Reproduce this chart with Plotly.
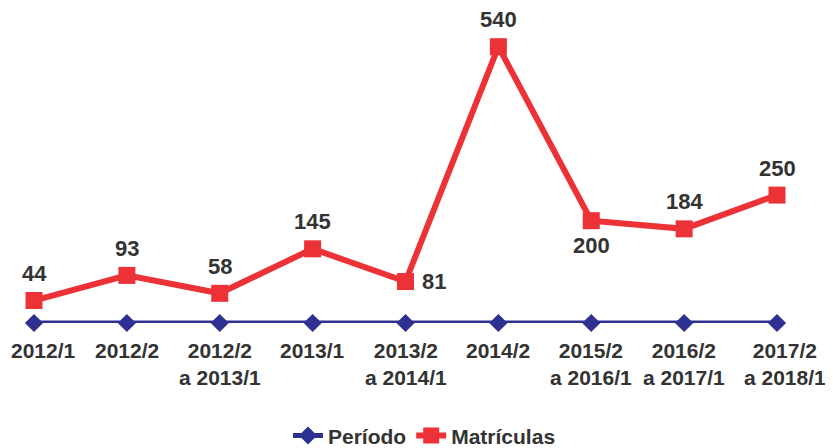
import plotly.graph_objects as go

# categories and values
periodos = ["2012/1", "2012/2", "2012/2<br>a 2013/1", "2013/1", "2013/2<br>a 2014/1",
            "2014/2", "2015/2<br>a 2016/1", "2016/2<br>a 2017/1", "2017/2<br>a 2018/1"]
periodo_vals = [0, 0, 0, 0, 0, 0, 0, 0, 0]
matriculas = [44, 93, 58, 145, 81, 540, 200, 184, 250]

x = list(range(len(periodos)))

azul = "#2E3192"
vermelho = "#ED3237"
texto = "#333333"
fonte = "Liberation Sans, Arial"

fig = go.Figure()
fig.add_trace(go.Scatter(
    x=x, y=periodo_vals, name="Período", mode="lines+markers",
    line=dict(color=azul, width=5),
    marker=dict(symbol="diamond", size=14, color=azul),
    cliponaxis=False,
))
fig.add_trace(go.Scatter(
    x=x, y=matriculas, name="Matrículas", mode="lines+markers",
    line=dict(color=vermelho, width=6),
    marker=dict(symbol="square", size=17, color=vermelho),
    cliponaxis=False,
))

# value labels (offsets in pixels relative to each point)
offsets = [(0, 27), (0, 27), (0, 27), (0, 27), (28, 0), (0, 27), (0, -25), (0, 27), (0, 27)]
for xi, v, (dx, dy) in zip(x, matriculas, offsets):
    fig.add_annotation(x=xi, y=v, text=str(v), showarrow=False,
                       xshift=dx, yshift=dy,
                       font=dict(size=22, color=texto, family=fonte, weight="bold"))

# category labels as annotations so the end ones can sit inside the page
label_shift = [9, 0, 0, 0, 0, 0, 0, 0, 8]
for xi, lab, dx in zip(x, periodos, label_shift):
    fig.add_annotation(x=xi, y=0, yref="y", text=lab, showarrow=False,
                       xshift=dx, yshift=-14, yanchor="top",
                       font=dict(size=21, color=texto, family=fonte, weight="bold"))

# the page has a small body margin, so the margins are set a few px tighter
fig.update_layout(
    width=833, height=448,
    margin=dict(l=26, r=64, t=8, b=133, autoexpand=False),
    plot_bgcolor="white", paper_bgcolor="white",
    font=dict(family=fonte, color=texto, size=21, weight="bold"),
    showlegend=True,
    legend=dict(orientation="h", x=0.5, xanchor="center", xref="container",
                y=0.045, yanchor="middle", yref="container",
                font=dict(size=21, color=texto, weight="bold")),
    xaxis=dict(range=[0, 8], showticklabels=False,
               showgrid=False, zeroline=False, showline=False, ticks=""),
    yaxis=dict(range=[0, 600], visible=False, showgrid=False, zeroline=False),
)

fig.write_html("out.html")
